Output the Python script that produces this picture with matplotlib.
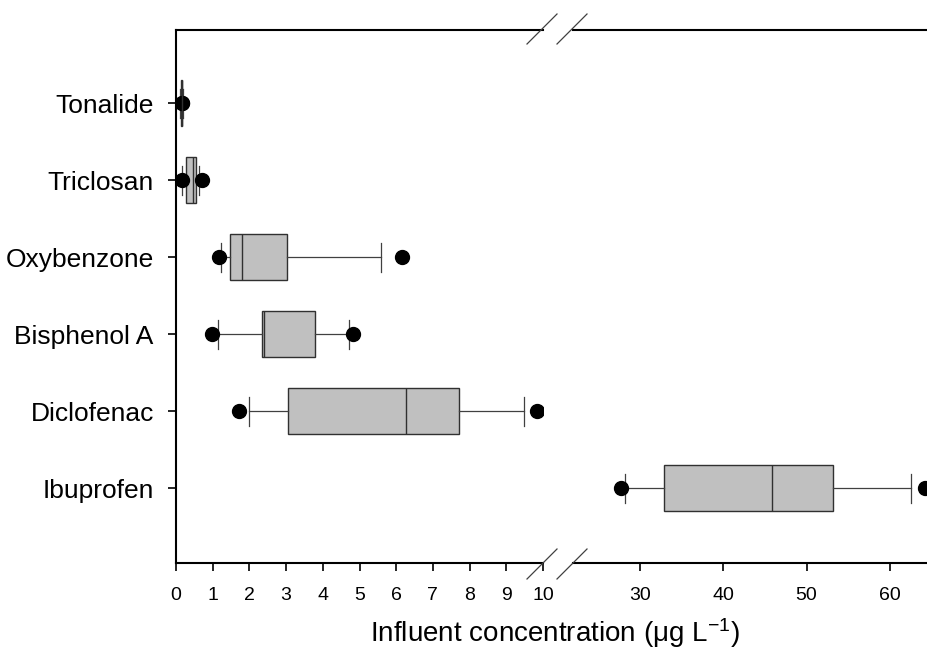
import matplotlib
matplotlib.use('Agg')
import matplotlib.pyplot as plt
from matplotlib.lines import Line2D

plt.rcParams['font.family'] = ['Liberation Sans', 'DejaVu Sans']
plt.rcParams['mathtext.fontset'] = 'custom'
plt.rcParams['mathtext.rm'] = 'Liberation Sans'
plt.rcParams['mathtext.it'] = 'Liberation Sans'

# compounds, bottom to top
compounds = ['Ibuprofen', 'Diclofenac', 'Bisphenol A', 'Oxybenzone', 'Triclosan', 'Tonalide']
whislo = [28.2, 1.98, 1.15, 1.23, 0.17, 0.12]
q1 = [32.9, 3.06, 2.33, 1.47, 0.27, 0.14]
med = [45.8, 6.26, 2.41, 1.81, 0.47, 0.15]
q3 = [53.2, 7.70, 3.79, 3.03, 0.54, 0.16]
whishi = [62.6, 9.48, 4.72, 5.59, 0.63, 0.18]
p5 = [27.7, 1.72, 0.97, 1.17, 0.15, 0.15]
p95 = [64.2, 9.84, 4.81, 6.16, 0.70, 0.15]

left_ticks = list(range(0, 11))
right_ticks = [30, 40, 50, 60]

stats = []
for i, name in enumerate(compounds):
    stats.append(dict(label=name, whislo=whislo[i], q1=q1[i], med=med[i], q3=q3[i],
                      whishi=whishi[i], fliers=[p5[i], p95[i]]))

fig = plt.figure(figsize=(9.27, 6.59), dpi=100)
W, H = 927, 659
ax1 = fig.add_axes([176 / W, 96 / H, 367 / W, 533 / H])
ax2 = fig.add_axes([573 / W, 96 / H, 354 / W, 533 / H])

positions = list(range(1, len(compounds) + 1))
for ax in (ax1, ax2):
    ax.bxp(stats, positions=positions, vert=False, widths=0.6, capwidths=0.38,
           patch_artist=True, showfliers=True,
           boxprops=dict(facecolor='#c0c0c0', edgecolor='#303030', linewidth=1.0),
           medianprops=dict(color='#303030', linewidth=1.0),
           whiskerprops=dict(color='#404040', linewidth=0.9),
           capprops=dict(color='#404040', linewidth=0.9),
           flierprops=dict(marker='o', markerfacecolor='black', markeredgecolor='black',
                           markersize=10, linestyle='none'))
    ax.set_ylim(0.03, 6.95)
    for s in ax.spines.values():
        s.set_linewidth(1.5)
        s.set_color('black')
    ax.tick_params(axis='x', length=6, width=1.2, labelsize=14, pad=11, direction='out')

ax1.set_xlim(0, 10)
ax1.set_xticks(left_ticks)
ax1.set_xticklabels([str(t) for t in left_ticks])
ax1.set_yticks(positions)
ax1.set_yticklabels(compounds, fontsize=19)
ax1.tick_params(axis='y', length=6, width=1.2, pad=10)
ax1.spines['right'].set_visible(False)

ax2.set_xlim(21.9, 64.5)
ax2.set_xticks(right_ticks)
ax2.set_xticklabels([str(t) for t in right_ticks])
ax2.set_yticks([])
ax2.spines['left'].set_visible(False)
ax2.spines['right'].set_visible(False)

# break marks
for cx in (542, 572):
    for cy in (29, 564):
        fig.add_artist(Line2D([(cx - 15) / W, (cx + 15) / W],
                              [1 - (cy + 15) / H, 1 - (cy - 15) / H],
                              color='#404040', linewidth=0.9))

fig.text(555 / W, 1 - 642 / H, r'Influent concentration ($\mathrm{\mu}$g L$^{-1}$)',
         ha='center', va='baseline', fontsize=20)

fig.savefig('out.png', dpi=100)
